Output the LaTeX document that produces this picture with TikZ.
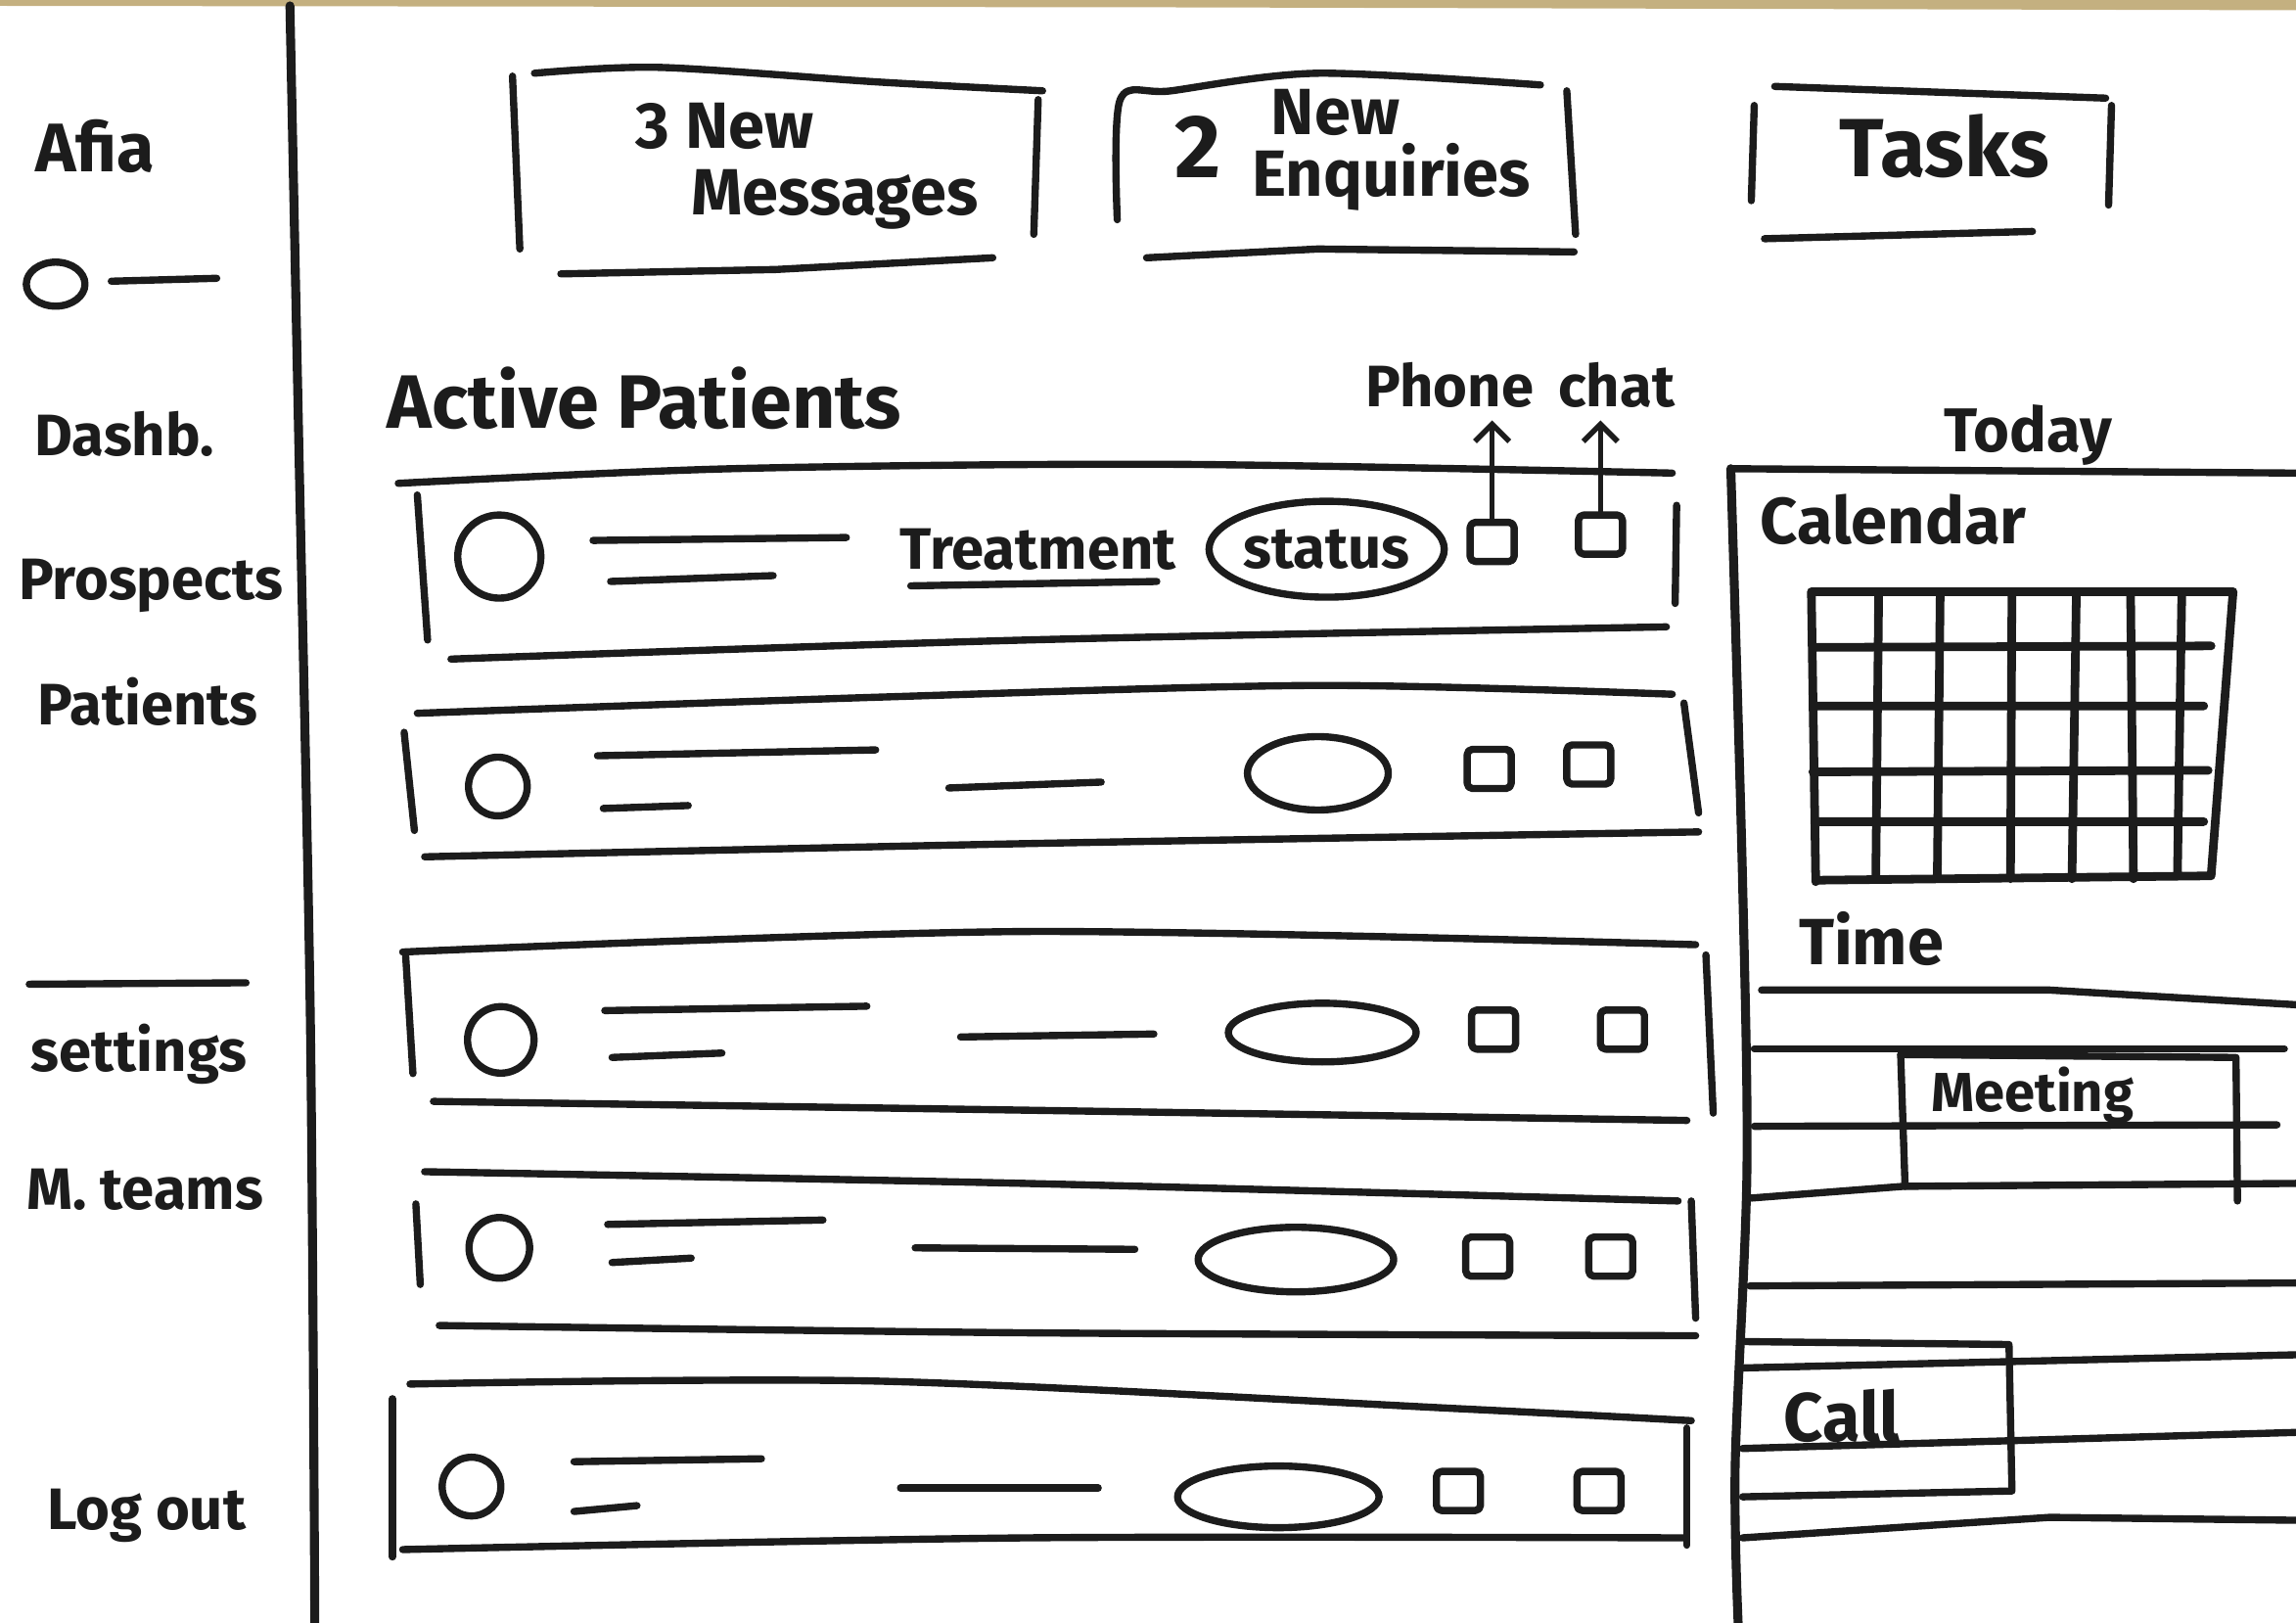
\documentclass[tikz,border=0pt]{standalone}
\usepackage{fontspec}
\setmainfont{Fira Sans}
\usetikzlibrary{shapes.geometric,arrows.meta}

\definecolor{ink}{RGB}{28,28,28}
\definecolor{desk}{RGB}{196,176,128}

\tikzset{
  pen/.style={draw=ink, line width=2.1pt, line cap=round, line join=round},
  thinpen/.style={draw=ink, line width=1.6pt, line cap=round},
  hand/.style={text=ink, inner sep=0pt, font=\fontsize{17}{19}\selectfont\bfseries},
  bighand/.style={text=ink, inner sep=0pt, font=\fontsize{19}{21}\selectfont\bfseries},
  avatar/.style={pen, circle, inner sep=0pt},
  pill/.style={pen, ellipse, inner sep=0pt},
  iconbox/.style={pen, rectangle, rounded corners=1.5pt, minimum width=0.45cm, minimum height=0.40cm, inner sep=0pt}
}

\begin{document}
\begin{tikzpicture}[x=0.014962cm, y=-0.014962cm]
    \useasboundingbox (0,0) rectangle (1568,1108);
    \fill[desk] (0,0) -- (1568,0) -- (1568,7) -- (800,5) -- (0,4) -- cycle;

    % sidebar
    \node[bighand, font=\fontsize{20}{22}\selectfont\bfseries] (afia) at (65,100) {Afia};
    \node[pen, ellipse, minimum width=0.6cm, minimum height=0.45cm, inner sep=0pt] (me) at (38,194) {};
    \coordinate (meline) at (148,190);
    \draw[pen] (76,192) -- (meline);
    \node[hand] (dashb) at (85,296) {Dashb.};
    \node[hand] (prospects) at (103,400) {Prospects};
    \node[hand] (patients) at (101,479) {Patients};
    \draw[pen] (20,672) -- (168,671);
    \node[hand] (settings) at (95,720) {settings};
    \node[hand] (mteams) at (99,812) {M. teams};
    \node[hand] (logout) at (100,1035) {Log out};
    \draw[pen, line width=2.6pt] plot[smooth] coordinates {(198,4) (204,300) (212,700) (215,1108)};

    % counters
    \draw[pen] plot[smooth] coordinates {(365,50) (450,46) (600,56) (712,62)};
    \draw[pen] (350,52) -- (355,170);
    \draw[pen] (709,68) -- (706,160);
    \draw[pen] (383,187) -- (530,184) -- (678,176);
    \node[bighand] (msgs1) at (495,86) {3 New};
    \node[bighand] (msgs2) at (570,136) {Messages};
    \draw[pen] plot[smooth] coordinates {(763,150) (765,68) (800,62) (900,50) (1052,58)};
    \draw[pen] (1070,62) -- (1076,160);
    \draw[pen] (783,176) -- (900,170) -- (1075,172);
    \node[bighand, font=\fontsize{26}{28}\selectfont\bfseries] (enq0) at (818,100) {2};
    \node[bighand] (enq1) at (912,77) {New};
    \node[bighand] (enq2) at (950,121) {Enquiries};
    \draw[pen] (1212,59) -- (1438,67);
    \draw[pen] (1198,72) -- (1196,137);
    \draw[pen] (1442,72) -- (1440,140);
    \draw[pen] (1205,163) -- (1388,158);
    \node[bighand, font=\fontsize{24}{26}\selectfont\bfseries] (tasks) at (1328,100) {Tasks};

    % patient list
    \node[bighand, font=\fontsize{22}{24}\selectfont\bfseries] (active) at (440,272) {Active Patients};
    \node[hand] (phone) at (990,263) {Phone};
    \node[hand] (chat) at (1104,263) {chat};

    \draw[pen] plot[smooth] coordinates {(272,330) (500,320) (800,317) (1142,323)};
    \draw[pen] (285,338) -- (292,437);
    \draw[pen] (1145,345) -- (1144,412);
    \draw[pen] plot[smooth] coordinates {(308,450) (700,437) (1138,428)};
    \node[avatar, minimum size=0.85cm] (av1) at (341,380) {};
    \draw[pen] (405,369) -- (578,367);
    \draw[pen] (417,397) -- (528,393);
    \node[hand] (treat) at (709,375) {Treatment};
    \draw[pen] (622,400) -- (790,397);
    \node[pill, minimum width=2.2cm, minimum height=0.98cm, hand, draw=ink] (status) at (906,375) {status};
    \node[iconbox] (ph1) at (1019,370) {};
    \node[iconbox] (ch1) at (1093,365) {};
    \draw[thinpen, -{Straight Barb[length=5pt, width=10pt, line width=1.6pt]}] (ph1.north) -- (ph1.north |- 0,287);
    \draw[thinpen, -{Straight Barb[length=5pt, width=10pt, line width=1.6pt]}] (ch1.north) -- (ch1.north |- 0,287);

    \draw[pen] plot[smooth] coordinates {(285,487) (600,476) (900,468) (1142,474)};
    \draw[pen] (276,500) -- (283,567);
    \draw[pen] (1150,480) -- (1160,555);
    \draw[pen] plot[smooth] coordinates {(290,585) (700,576) (1160,568)};
    \node[avatar, minimum size=0.6cm] (av2) at (340,537) {};
    \draw[pen] (408,516) -- (598,512);
    \draw[pen] (412,552) -- (470,550);
    \draw[pen] (648,538) -- (752,534);
    \node[pill, minimum width=1.44cm, minimum height=0.75cm] (st2) at (900,528) {};
    \node[iconbox] (ph2) at (1017,525) {};
    \node[iconbox] (ch2) at (1085,522) {};

    \draw[pen] plot[smooth] coordinates {(275,650) (700,636) (1158,645)};
    \draw[pen] (277,652) -- (282,733);
    \draw[pen] (1165,652) -- (1170,760);
    \draw[pen] plot[smooth] coordinates {(296,752) (700,758) (1152,765)};
    \node[avatar, minimum size=0.68cm] (av3) at (342,710) {};
    \draw[pen] (413,690) -- (592,687);
    \draw[pen] (418,722) -- (493,719);
    \draw[pen] (656,708) -- (788,706);
    \node[pill, minimum width=1.92cm, minimum height=0.6cm] (st3) at (903,705) {};
    \node[iconbox] (ph3) at (1020,703) {};
    \node[iconbox] (ch3) at (1108,703) {};

    \draw[pen] plot[smooth] coordinates {(290,800) (700,808) (1146,820)};
    \draw[pen] (284,822) -- (287,877);
    \draw[pen] (1155,820) -- (1158,900);
    \draw[pen] plot[smooth] coordinates {(300,905) (700,910) (1158,912)};
    \node[avatar, minimum size=0.62cm] (av4) at (341,852) {};
    \draw[pen] (415,836) -- (562,833);
    \draw[pen] (418,862) -- (472,859);
    \draw[pen] (625,852) -- (775,853);
    \node[pill, minimum width=2.0cm, minimum height=0.66cm] (st4) at (885,860) {};
    \node[iconbox] (ph4) at (1016,858) {};
    \node[iconbox] (ch4) at (1100,858) {};

    \draw[pen] plot[smooth] coordinates {(280,945) (600,943) (1000,962) (1155,970)};
    \draw[pen] (268,955) -- (268,1063);
    \draw[pen] (1152,975) -- (1152,1055);
    \draw[pen] plot[smooth] coordinates {(275,1058) (700,1050) (1150,1050)};
    \node[avatar, minimum size=0.6cm] (av5) at (322,1015) {};
    \draw[pen] (392,998) -- (520,996);
    \draw[pen] (392,1032) -- (435,1028);
    \draw[pen] (615,1016) -- (750,1016);
    \node[pill, minimum width=2.06cm, minimum height=0.63cm] (st5) at (873,1022) {};
    \node[iconbox] (ph5) at (996,1018) {};
    \node[iconbox] (ch5) at (1092,1018) {};

    % today panel
    \node[hand, font=\fontsize{18}{20}\selectfont\bfseries] (today) at (1385,297) {Today};
    \draw[pen] (1183,320) -- (1568,323);
    \draw[pen, line width=2.6pt] plot[smooth] coordinates {(1182,320) (1190,600) (1193,800) (1185,1000) (1187,1108)};
    \node[hand, font=\fontsize{19}{21}\selectfont\bfseries] (calendar) at (1293,355) {Calendar};

    \draw[pen, line width=2.5pt]
      (1237,404) -- (1525,404)
      (1240,442) -- (1510,441)
      (1240,482) -- (1505,482)
      (1238,527) -- (1508,526)
      (1240,561) -- (1505,561)
      (1240,601) -- (1510,598)
      (1237,404) -- (1240,602)
      (1283,404) -- (1281,600)
      (1325,404) -- (1323,600)
      (1374,404) -- (1373,600)
      (1418,404) -- (1415,600)
      (1455,404) -- (1457,600)
      (1490,404) -- (1487,598)
      (1525,404) -- (1510,598);

    \node[hand, font=\fontsize{19}{21}\selectfont\bfseries] (time) at (1278,641) {Time};
    \draw[pen] (1203,676) -- (1400,676) -- (1568,686);
    \draw[pen] (1198,716) -- (1560,716);
    \draw[pen] (1198,769) -- (1555,768);
    \draw[pen] (1196,818) -- (1300,810) -- (1568,808);
    \draw[pen] (1298,720) -- (1527,722) -- (1528,820);
    \draw[pen] (1298,720) -- (1301,810);
    \node[hand, font=\fontsize{16}{18}\selectfont\bfseries] (meeting) at (1388,748) {Meeting};
    \draw[pen] (1195,878) -- (1568,876);
    \draw[pen] (1192,916) -- (1372,918) -- (1374,1018) -- (1190,1022);
    \draw[pen] (1190,934) -- (1568,925);
    \draw[pen] (1190,989) -- (1568,978);
    \draw[pen] (1190,1050) -- (1400,1036) -- (1568,1038);
    \node[hand, font=\fontsize{20}{22}\selectfont\bfseries] (call) at (1258,967) {Call};
\end{tikzpicture}
\end{document}
